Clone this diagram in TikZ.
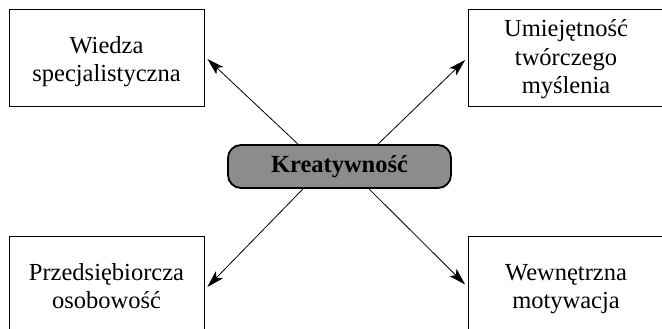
\documentclass[tikz,border=0pt]{standalone}
\usepackage{fontspec}
\setmainfont{Liberation Serif}
\usetikzlibrary{arrows.meta}

\begin{document}
\begin{tikzpicture}[x=1pt,y=-1pt,
    pole/.style={draw,line width=0.8pt,minimum width=195pt,minimum height=97pt,
        align=center,inner sep=0pt,text height=48.8pt,text depth=0pt,
        font=\fontsize{24.5}{28.8}\selectfont},
    rdzen/.style={draw,line width=1.8pt,fill=black!45,rounded corners=13pt,
        minimum width=223pt,minimum height=43pt,inner sep=0pt,
        font=\fontsize{24.5}{28.8}\selectfont\bfseries},
    strz/.style={line width=0.8pt,-{Stealth[length=17pt,width=10pt,inset=4pt]}}]
        \useasboundingbox (0,0) rectangle (662,329);
        \clip (0,0) rectangle (662,329);

        \node[rdzen] (kreat) at (339.5,166.5) {Kreatywność};

        \node[pole] (wiedza) at (106.5,57.5) {Wiedza\\specjalistyczna};
        \node[pole,text height=72.6pt] (myslenie) at (566,57.5)
            {Umiejętność\\twórczego\\myślenia};
        \node[pole] (osobowosc) at (106.5,284.5) {Przedsiębiorcza\\osobowość};
        \node[pole] (motywacja) at (566,284.5) {Wewnętrzna\\motywacja};

        \draw[strz] ([xshift=-41.5pt]kreat.north) -- ([xshift=3pt,yshift=-1.5pt]wiedza.east);
        \draw[strz] ([xshift=38.5pt]kreat.north) -- ([xshift=-3pt,yshift=-2.5pt]myslenie.west);
        \draw[strz] ([xshift=-36.5pt]kreat.south) -- ([xshift=3pt,yshift=-2.5pt]osobowosc.east);
        \draw[strz] ([xshift=29.5pt]kreat.south) -- ([xshift=-3pt]motywacja.west);
\end{tikzpicture}
\end{document}
